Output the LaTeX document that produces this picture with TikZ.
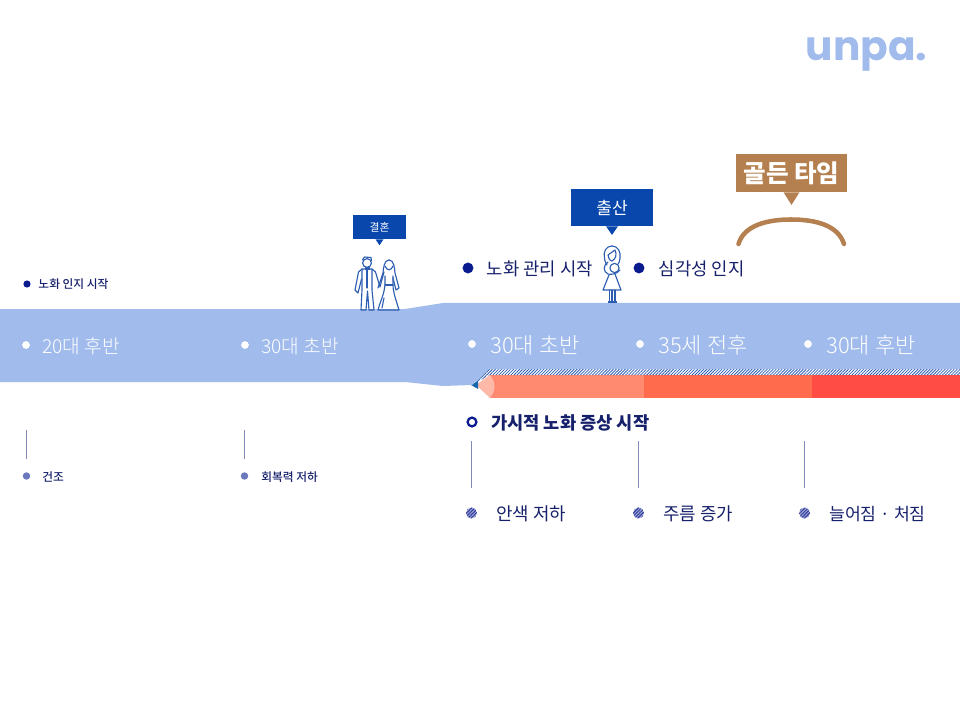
\documentclass[tikz,border=0pt]{standalone}
\usepackage{fontspec}
\usetikzlibrary{positioning,patterns.meta}

\setmainfont{Noto Sans CJK KR}
\IfFontExistsTF{Noto Sans CJK KR Light}
    {\newfontfamily\lightkr{Noto Sans CJK KR Light}}
    {\newfontfamily\lightkr{Noto Sans CJK KR}}
\IfFontExistsTF{Noto Sans CJK KR Medium}
    {\newfontfamily\mediumkr{Noto Sans CJK KR Medium}}
    {\newfontfamily\mediumkr{Noto Sans CJK KR}}
\newfontfamily\logofont{Poppins}[BoldFont=* Bold]

\definecolor{bandblue}{HTML}{A0BBEC}
\definecolor{navydot}{HTML}{0A1A8F}
\definecolor{navytext}{HTML}{16206B}
\definecolor{softdot}{HTML}{6C78BC}
\definecolor{stemline}{HTML}{8489B8}
\definecolor{boxblue}{HTML}{0A47AD}
\definecolor{figline}{HTML}{2C5DB0}
\definecolor{golden}{HTML}{B5804F}
\definecolor{pencilA}{HTML}{FF8A70}
\definecolor{pencilB}{HTML}{FF6B4D}
\definecolor{pencilC}{HTML}{FF4D45}
\definecolor{pencilwood}{HTML}{FFB9A8}
\definecolor{penciltip}{HTML}{1668AE}

\tikzset{
    dot/.style={circle,inner sep=0pt,minimum size=#1},
    agedot/.style={dot=5.8pt,fill=white},
    agetext/.style={text=white,inner sep=0pt,yshift=-1pt},
    marktext/.style={text=navytext,inner sep=0pt,yshift=-.5pt,font=\fontsize{13.3pt}{15pt}\selectfont},
    smalltext/.style={text=navytext,inner sep=0pt,font=\mediumkr\fontsize{8.8pt}{10pt}\selectfont},
    stripedot/.style={dot=8.2pt,preaction={fill=navydot!40},pattern={Lines[angle=45,distance=1.7pt,line width=.75pt]},pattern color=navydot!85},
    stem/.style={stemline,line width=.85pt},
    callout/.style={fill=boxblue,text=white,inner sep=0pt,align=center},
    figure/.style={figline,line width=.85pt,line join=round,line cap=round}
}

\begin{document}
\begin{tikzpicture}[x=.75pt,y=-.75pt]
    \useasboundingbox (0,0) rectangle (960,720);

    % pencil
    \fill[pencilA] (490,375) rectangle (644,398);
    \fill[pencilB] (644,375) rectangle (812,398);
    \fill[pencilC] (812,375) rectangle (960,398);
    \fill[pattern={Lines[angle=45,distance=1.6pt,line width=.6pt]},pattern color=figline]
        (472,385) -- (489,368) -- (960,368) -- (960,375) -- (490,375) -- cycle;
    \fill[pencilwood] (476,385) -- (490,375) .. controls (496,382) and (496,391) .. (490,398) -- cycle;
    \fill[penciltip] (471,385) -- (478,381) -- (478,389) -- cycle;

    % band
    \fill[bandblue] (0,309) -- (405,309) -- (443,303) -- (960,303) -- (960,369)
        -- (489,369) -- (472,385) -- (443,386) -- (405,382) -- (0,382) -- cycle;

    % logo
    \node[text=bandblue,inner sep=0pt,anchor=base west,font=\logofont\bfseries\fontsize{30.5pt}{32pt}\selectfont]
        (logo) at (805.5,61) {unpa.};

    % ages
    \foreach \n/\x/\y/\s/\g/\t in {a/26/345/14.4/9/20대 후반,b/245/345/14.4/9/30대 초반,c/472/344/16.5/10.5/30대 초반,
            d/640/344/16.5/10.5/35세 전후,e/808/344/16.5/10.5/30대 후반}{
        \node[agedot] (age\n) at (\x,\y) {};
        \node[agetext,right=\g pt of age\n,font=\lightkr\fontsize{\s pt}{18pt}\selectfont] (agetext\n) {\t};
    }

    % marks above the band
    \node[dot=5.4pt,fill=navydot] (markstart) at (27,284) {};
    \node[smalltext,right=5.5pt of markstart] (markstarttext) {노화 인지 시작};
    \node[dot=8.2pt,fill=navydot] (markcare) at (468,268) {};
    \node[marktext,right=9.7pt of markcare] (markcaretext) {노화 관리 시작};
    \node[dot=8.2pt,fill=navydot] (markserious) at (639,268) {};
    \node[marktext,right=10.4pt of markserious] (markserioustext) {심각성 인지};

    % marks below the band
    \node[dot=6.6pt,draw=navydot,line width=1.7pt,fill=white] (ring) at (472,422) {};
    \node[marktext,right=10.2pt of ring,font=\bfseries\fontsize{13.2pt}{15pt}\selectfont] (ringtext) {가시적 노화 증상 시작};

    \foreach \n/\x/\tx/\t in {dry/26.5/42/건조,tired/244.5/261/회복력 저하}{
        \node[dot=5.6pt,fill=softdot] (low\n) at (\x,476) {};
        \node[smalltext,anchor=west] (low\n text) at (\tx,477) {\t};
        \coordinate (top\n) at (\x,430);
        \draw[stem,shorten >=10pt] (top\n) -- (low\n.north);
    }
    \foreach \n/\x/\tx/\s/\t in {tone/471.5/496/13.4/안색 저하,wrinkle/638.5/663/13.4/주름 증가,sag/804.5/829/12.9/늘어짐 · 처짐}{
        \node[stripedot] (low\n) at (\x,513) {};
        \node[marktext,anchor=west,font=\fontsize{\s pt}{15pt}\selectfont] (low\n text) at (\tx,513) {\t};
        \coordinate (top\n) at (\x,441);
        \draw[stem,shorten >=14.5pt] (top\n) -- (low\n.north);
    }

    % callouts
    \node[callout,minimum width=39.75pt,minimum height=18pt,font=\fontsize{8.1pt}{10pt}\selectfont] (wedding) at (379.5,227) {결혼};
    \fill[boxblue] ([xshift=-3pt]wedding.south) -- ([xshift=3pt]wedding.south) -- ([yshift=-4.5pt]wedding.south) -- cycle;
    \node[callout,minimum width=61.5pt,minimum height=27.75pt,font=\fontsize{12.8pt}{14pt}\selectfont] (birth) at (612,207.5) {출산};
    \fill[boxblue] ([xshift=-4.5pt]birth.south) -- ([xshift=4.5pt]birth.south) -- ([yshift=-6.5pt]birth.south) -- cycle;
    \node[callout,fill=golden,minimum width=83.25pt,minimum height=28.5pt,font=\bfseries\fontsize{18.4pt}{20pt}\selectfont] (golden) at (791.5,173) {골든 타임};
    \fill[golden] ([xshift=-6pt]golden.south) -- ([xshift=6pt]golden.south) -- ([yshift=-9.5pt]golden.south) -- cycle;
    \coordinate (arcleft) at (738.5,244);
    \coordinate (arcright) at (844,244);
    \draw[golden,line width=3.4pt,line cap=round] (arcleft) .. controls (744,225) and (768,219.5) .. (791,219.5)
        .. controls (815,219.5) and (838,225) .. (arcright);

    % couple
    \draw[figure] (367,263) circle[radius=4.4];
    \draw[figure] (362.5,260) -- (364.5,257) -- (371,257.5) -- (371.5,260.5);
    \draw[figure] (362,269) -- (372,269) -- (372,290) -- (374,310) -- (369,310) -- (367.5,291) -- (366,310) -- (361,310) -- (362,290) -- cycle;
    \draw[figure] (362,269) -- (358.5,272) -- (355,290) -- (358,293) -- (361.5,279);
    \draw[figure] (372,269) -- (375.5,272) -- (380,287) -- (384,272);
    \draw[figure] (367,270) -- (367,288);
    \fill[figline] (364.5,267.5) -- (369.5,267.5) -- (369.5,270) -- (364.5,270) -- cycle;
    \draw[figure] (389,260) .. controls (384,260) and (383.5,268) .. (383,273) -- (378,288);
    \draw[figure] (389,260) .. controls (394,260) and (394.5,268) .. (395,273) -- (399,288) -- (396,290) -- (393,278);
    \draw[figure] (385,266) .. controls (387,271) and (391,271) .. (393,266);
    \draw[figure] (385,276) -- (385,285) .. controls (384,295) and (380,302) .. (378,310) -- (399,310)
        .. controls (396,300) and (393,292) .. (393,285) -- (393,276);
    \draw[figure] (385,285) -- (393,285);
    \draw[figure] (384,298) -- (382,308);

    % mother
    \draw[figure] (612,246) .. controls (606,246) and (603,252) .. (604.5,258) .. controls (605,262) and (606,264) .. (607,265);
    \draw[figure] (612,246) .. controls (618,246) and (621,252) .. (620,258) .. controls (619.5,262) and (619,263) .. (618,264);
    \draw[figure] (608,255) .. controls (610,253) and (613,252) .. (615,250) .. controls (617,254) and (616,259) .. (612,261) .. controls (610,261) and (608,258) .. (608,255);
    \draw[figure] (614.5,268) circle[radius=4.6];
    \draw[figure] (608,262) .. controls (603,265) and (603,272) .. (608,274) .. controls (611,275) and (617,274) .. (620,270);
    \draw[figure] (609,275) -- (603,290) -- (621,290) -- (615,274);
    \draw[figure] (609.5,290) -- (609.5,302) (612,290) -- (612,302) (615,290) -- (615,302);
    \fill[figline] (608,301) rectangle (617,303);
\end{tikzpicture}
\end{document}
